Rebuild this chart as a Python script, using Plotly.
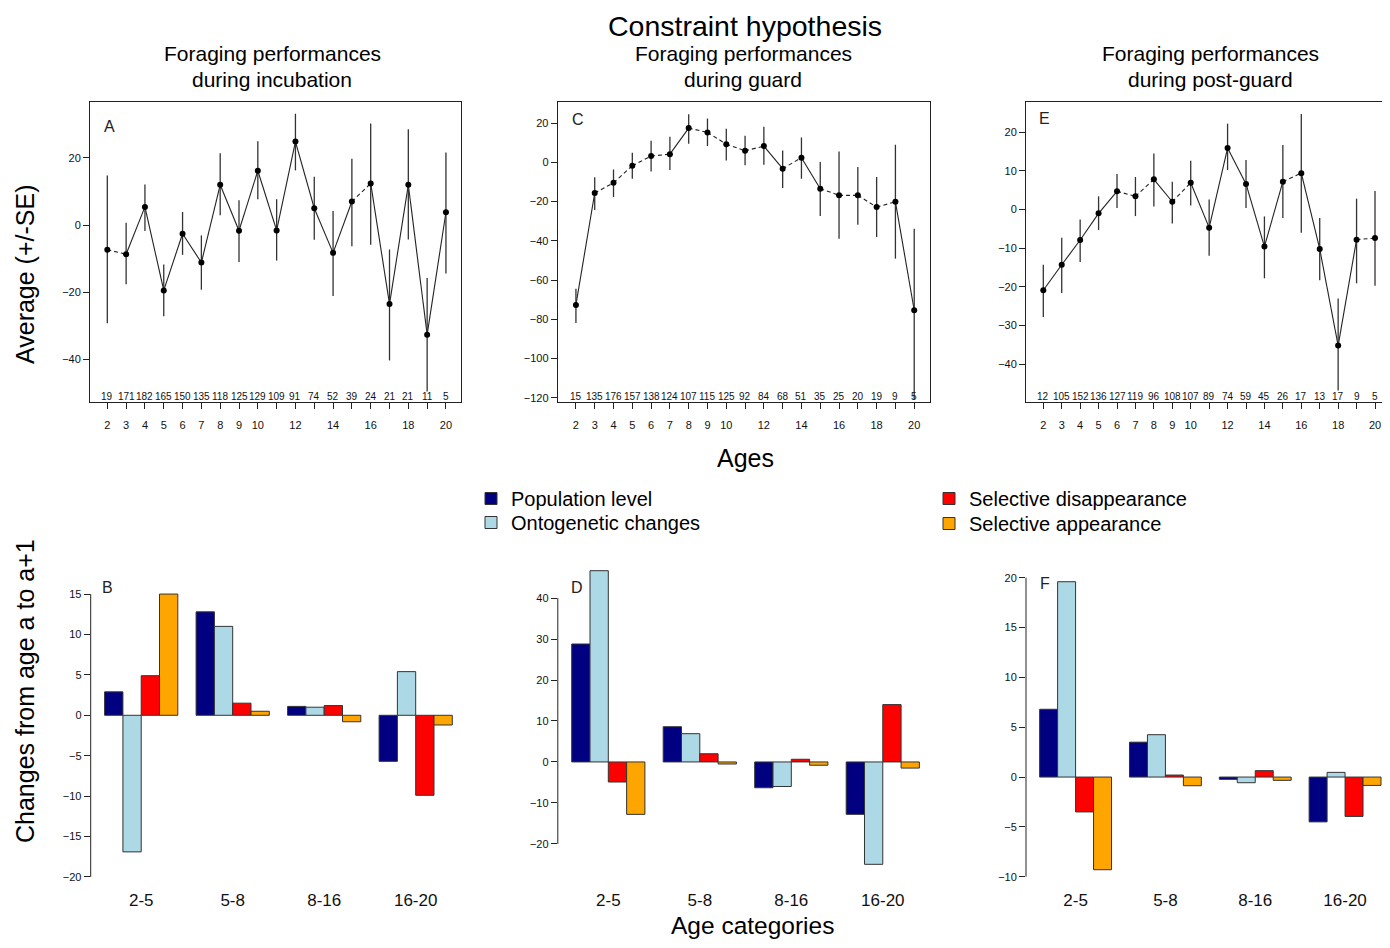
import plotly.graph_objects as go

# the plot div sits 8 px in from the page corner and the visible area ends
# 8 px before the right/bottom window edges -> work in page pixels
OFF = 8
W, H = 1390 - 2 * OFF, 948 - 2 * OFF
RIGHT = OFF + W  # last visible page pixel column

# ---------------- data ----------------
ages = list(range(2, 21))
age_tick_labels = ['2', '3', '4', '5', '6', '7', '8', '9', '10', '', '12', '', '14', '', '16', '', '18', '', '20']

# A: incubation
inc_mean = [-7.4, -8.7, 5.4, -19.5, -2.6, -11.2, 12.0, -1.7, 16.2, -1.6, 24.9, 5.0, -8.3, 7.0, 12.4, -23.6, 12.0, -32.7, 3.8]
inc_upper = [14.8, 0.7, 12.1, -11.8, 3.9, -3.1, 21.4, 7.4, 25.0, 7.7, 33.2, 14.4, 4.2, 19.8, 30.3, -7.3, 28.6, -15.8, 21.6]
inc_lower = [-29.3, -17.7, -1.8, -27.2, -8.9, -19.3, 2.9, -11.0, 7.7, -10.6, 16.3, -4.4, -21.2, -6.3, -5.9, -40.4, -4.3, -49.7, -14.5]
inc_n = [19, 171, 182, 165, 150, 135, 118, 125, 129, 109, 91, 74, 52, 39, 24, 21, 21, 11, 5]

# C: guard
guard_mean = [-72.7, -15.6, -10.4, -1.7, 3.2, 4.2, 17.5, 15.3, 9.3, 5.9, 8.3, -3.2, 2.4, -13.4, -16.8, -16.8, -22.8, -20.1, -75.4]
guard_upper = [-64.4, -7.6, -3.6, 4.9, 11.0, 13.1, 24.6, 22.4, 17.2, 13.6, 18.2, 6.1, 12.7, 0.2, 5.6, -2.4, -7.5, 9.0, -33.8]
guard_lower = [-81.9, -24.3, -17.7, -8.3, -4.6, -3.9, 9.5, 8.3, 1.0, -1.4, -1.2, -13.1, -8.3, -27.4, -38.9, -31.8, -38.1, -49.1, -121.0]
guard_n = [15, 135, 176, 157, 138, 124, 107, 115, 125, 92, 84, 68, 51, 35, 25, 20, 19, 9, 5]

# E: post-guard
post_mean = [-20.9, -14.3, -7.9, -1.0, 4.7, 3.4, 7.8, 2.0, 6.9, -4.7, 15.9, 6.6, -9.6, 7.2, 9.4, -10.2, -35.2, -7.8, -7.4]
post_upper = [-14.3, -7.3, -2.6, 3.4, 9.2, 8.4, 14.5, 7.2, 12.6, 2.6, 22.2, 12.8, -1.8, 16.7, 24.7, -2.2, -23.0, 2.8, 4.8]
post_lower = [-27.8, -21.6, -13.6, -5.3, 0.4, -1.7, 0.8, -3.6, 1.0, -12.0, 10.2, 0.4, -17.8, -2.2, -6.0, -18.3, -46.8, -19.1, -19.7]
post_n = [12, 105, 152, 136, 127, 119, 96, 108, 107, 89, 74, 59, 45, 26, 17, 13, 17, 9, 5]

# Bottom panels
categories = ['2-5', '5-8', '8-16', '16-20']
series_names = ['Population level', 'Ontogenetic changes', 'Selective disappearance', 'Selective appearance']
series_colors = ['#000080', '#ADD8E6', '#FF0000', '#FFA500']

B_pop = [2.9, 12.8, 1.1, -5.7]
B_onto = [-16.9, 11.0, 1.0, 5.4]
B_dis = [4.9, 1.5, 1.2, -9.9]
B_app = [15.0, 0.5, -0.8, -1.2]

D_pop = [28.8, 8.6, -6.3, -12.8]
D_onto = [46.7, 6.9, -6.0, -25.0]
D_dis = [-4.9, 2.0, 0.65, 14.0]
D_app = [-12.8, -0.5, -0.8, -1.5]

F_pop = [6.8, 3.5, -0.23, -4.5]
F_onto = [19.6, 4.25, -0.57, 0.47]
F_dis = [-3.5, 0.2, 0.64, -3.95]
F_app = [-9.3, -0.87, -0.33, -0.84]

B_ticks = [-20, -15, -10, -5, 0, 5, 10, 15]
D_ticks = [-20, -10, 0, 10, 20, 30, 40]
F_ticks = [-10, -5, 0, 5, 10, 15, 20]

# ---------------- layout helpers ----------------
FONT = 'Liberation Sans, Arial, sans-serif'


def px_x(x):
    return (x - OFF) / W


def px_y(y):
    return 1 - (y - OFF) / H


fig = go.Figure()

# E is squeezed slightly so its last tick label stays inside the visible page
E_px_per_year = (1375 - 1043.3) / 18
E_range = [2 - (1043.3 - 1026) / E_px_per_year, 20 + (RIGHT - 1375) / E_px_per_year]

top_panels = [
    # (axis suffix, mean, upper, lower, n, xdom px, xrange, yrange, dtick, letter pos, letter, mirror_y)
    ('', inc_mean, inc_upper, inc_lower, inc_n, (90, 461), [1.08, 20.8], [-52.8, 36.7], 20, (102, 126), 'A', True),
    ('3', guard_mean, guard_upper, guard_lower, guard_n, (557.7, 930), [1.03, 20.84], [-122.2, 30.8], 20, (570, 120), 'C', True),
    ('5', post_mean, post_upper, post_lower, post_n, (1026, RIGHT), E_range, [-49.8, 27.8], 10, (1037, 118), 'E', False),
]
TOP_Y = (102, 402)

annotations = []
shapes = []

for suf, mean, up, lo, n, xd, xr, yr, dt, lpos, letter, mirror_y in top_panels:
    xa = 'x' + suf
    ya = 'y' + suf
    # pixel scale used to pick the connecting-segment style
    sx = (xd[1] - xd[0]) / (xr[1] - xr[0])
    sy = (TOP_Y[1] - TOP_Y[0]) / (yr[1] - yr[0])
    sol_x, sol_y, das_x, das_y = [], [], [], []
    for i in range(len(ages) - 1):
        slope = abs(mean[i + 1] - mean[i]) * sy / ((ages[i + 1] - ages[i]) * sx)
        if slope < 1.1:
            das_x += [ages[i], ages[i + 1], None]
            das_y += [mean[i], mean[i + 1], None]
        else:
            sol_x += [ages[i], ages[i + 1], None]
            sol_y += [mean[i], mean[i + 1], None]
    fig.add_trace(go.Scatter(x=sol_x, y=sol_y, mode='lines', xaxis=xa, yaxis=ya,
                             line=dict(color='#222', width=1.1), showlegend=False, hoverinfo='skip'))
    fig.add_trace(go.Scatter(x=das_x, y=das_y, mode='lines', xaxis=xa, yaxis=ya,
                             line=dict(color='#222', width=1.1, dash='4px,3px'), showlegend=False, hoverinfo='skip'))
    fig.add_trace(go.Scatter(
        x=ages, y=mean, mode='markers', xaxis=xa, yaxis=ya, cliponaxis=False,
        marker=dict(color='black', size=6),
        error_y=dict(type='data', symmetric=False,
                     array=[u - m for u, m in zip(up, mean)],
                     arrayminus=[m - l for m, l in zip(mean, lo)],
                     color='#333', thickness=1.3, width=0),
        showlegend=False))
    for a, nn in zip(ages, n):
        annotations.append(dict(x=a, y=0.018, xref=xa, yref=ya + ' domain', text=str(nn),
                                showarrow=False, font=dict(size=10, color='#111', family=FONT),
                                xanchor='center', yanchor='middle'))
    annotations.append(dict(x=px_x(lpos[0]), y=px_y(lpos[1]), xref='paper', yref='paper', text=letter,
                            showarrow=False, font=dict(size=16, color='#222', family=FONT),
                            xanchor='left', yanchor='middle'))
    axis_x = dict(domain=[px_x(xd[0]), min(1, px_x(xd[1]))], range=xr, anchor=ya, automargin=False,
                  tickmode='array', tickvals=ages, ticktext=age_tick_labels,
                  ticks='outside', ticklen=6, tickcolor='#222', ticklabelstandoff=7,
                  showline=True, linecolor='#222', linewidth=1, mirror=True,
                  showgrid=False, zeroline=False,
                  tickfont=dict(size=11, color='#111', family=FONT))
    axis_y = dict(domain=[px_y(TOP_Y[1]), px_y(TOP_Y[0])], range=yr, anchor=xa, automargin=False,
                  dtick=dt, ticks='outside', ticklen=6, tickcolor='#222',
                  showline=True, linecolor='#222', linewidth=1, mirror=mirror_y,
                  showgrid=False, zeroline=False,
                  tickfont=dict(size=11, color='#111', family=FONT))
    fig.layout['xaxis' + suf] = axis_x
    fig.layout['yaxis' + suf] = axis_y

BOT_Y = (558, 878)
# F is squeezed slightly so its last bar ends inside the visible page
F_px_per_cat = (RIGHT - 1 - 1026) / (3.4 + 0.552)
F_right = -0.552 + (RIGHT - 1026) / F_px_per_cat
bottom_panels = [
    ('2', [B_pop, B_onto, B_dis, B_app], (90.7, 466.2), [-0.552, 3.552], [-20.13, 19.46], B_ticks, (100, 587), 'B', True),
    ('4', [D_pop, D_onto, D_dis, D_app], (557.8, 933.3), [-0.552, 3.552], [-28.34, 49.8], D_ticks, (569, 587), 'D', False),
    ('6', [F_pop, F_onto, F_dis, F_app], (1026, RIGHT), [-0.552, F_right], [-10.13, 21.98], F_ticks, (1038, 583), 'F', False),
]

# one legend box per entry so each row sits where the reference puts it
legend_slots = ['legend', 'legend2', 'legend3', 'legend4']

for suf, series, xd, xr, yr, tks, lpos, letter, legend_on in bottom_panels:
    xa = 'x' + suf
    ya = 'y' + suf
    for k, (vals, name, col) in enumerate(zip(series, series_names, series_colors)):
        fig.add_trace(go.Bar(
            x=categories, y=vals, name=name, xaxis=xa, yaxis=ya,
            marker=dict(color=col, line=dict(color='#333', width=1)),
            showlegend=legend_on, legend=legend_slots[k]))
    fig.layout['xaxis' + suf] = dict(domain=[px_x(xd[0]), min(1, px_x(xd[1]))], range=xr, anchor=ya,
                                     type='category', showline=False, ticks='', showgrid=False,
                                     zeroline=False, ticklabelstandoff=10, automargin=False,
                                     tickfont=dict(size=17, color='#111', family=FONT))
    fig.layout['yaxis' + suf] = dict(domain=[px_y(BOT_Y[1]), px_y(BOT_Y[0])], range=yr, anchor=xa,
                                     tickmode='array', tickvals=tks, ticks='outside', ticklen=6,
                                     tickcolor='#222', showline=False, showgrid=False, zeroline=False,
                                     automargin=False,
                                     tickfont=dict(size=11, color='#111', family=FONT))
    shapes.append(dict(type='line', xref=xa + ' domain', yref=ya, x0=0, x1=0,
                       y0=min(tks), y1=max(tks), line=dict(color='#222', width=1)))
    annotations.append(dict(x=px_x(lpos[0]), y=px_y(lpos[1]), xref='paper', yref='paper', text=letter,
                            showarrow=False, font=dict(size=16, color='#222', family=FONT),
                            xanchor='left', yanchor='middle'))


# titles
def txt(x, y, s, size, angle=0):
    annotations.append(dict(x=px_x(x), y=px_y(y), xref='paper', yref='paper', text=s, showarrow=False,
                            textangle=angle, font=dict(size=size, color='black', family=FONT),
                            xanchor='center', yanchor='middle'))


txt(745, 26.5, 'Constraint hypothesis', 28.5)
for cx, sub in [(272, 'incubation'), (743, 'guard'), (1210, 'post-guard')]:
    txt(cx, 53, 'Foraging performances', 21)
    txt(cx, 79, 'during ' + sub, 21)
txt(745, 458, 'Ages', 25)
txt(752, 925, 'Age categories', 24.5)
txt(25, 275, 'Average (+/-SE)', 25, -90)
txt(25, 691, 'Changes from age a to a+1', 25, -90)


def leg(x, yc):
    return dict(x=px_x(x), y=px_y(yc - 20), xanchor='left', yanchor='top',
                font=dict(size=20, family=FONT, color='black'), bgcolor='rgba(0,0,0,0)',
                tracegroupgap=0, itemwidth=30)


fig.update_layout(
    width=W, height=H,
    margin=dict(l=0, r=0, t=0, b=0, autoexpand=False),
    paper_bgcolor='white', plot_bgcolor='white',
    barmode='group', bargap=0.2, bargroupgap=0,
    font=dict(family=FONT, color='black'),
    annotations=annotations, shapes=shapes,
    legend=leg(471, 499),
    legend2=leg(471, 523),
    legend3=leg(929, 499),
    legend4=leg(929, 524),
)

fig.write_html('out.html')
